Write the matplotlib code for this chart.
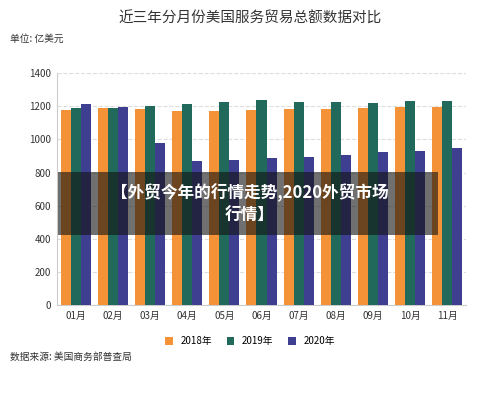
import numpy as np
import matplotlib
matplotlib.use("Agg")
import matplotlib.pyplot as plt
from matplotlib.patches import Rectangle

plt.rcParams['font.family'] = ['Noto Sans CJK SC', 'DejaVu Sans']

months = ["01月", "02月", "03月", "04月", "05月", "06月", "07月", "08月", "09月", "10月", "11月"]
y2018 = [1178, 1190, 1184, 1174, 1174, 1176, 1182, 1186, 1192, 1197, 1197]
y2019 = [1192, 1192, 1204, 1216, 1226, 1238, 1224, 1224, 1220, 1230, 1230]
y2020 = [1212, 1196, 979, 872, 876, 886, 896, 908, 922, 930, 946]
series = [("2018年", y2018, "#f39237"), ("2019年", y2019, "#21695a"), ("2020年", y2020, "#3e3f91")]

fig = plt.figure(figsize=(5.0, 4.08), dpi=100)
ax = fig.add_axes([0.114, 0.252, 0.818, 0.569])
x = np.arange(len(months))
w = 0.27
for i, (name, vals, col) in enumerate(series):
    ax.bar(x + (i - 1) * w, vals, w, color=col, label=name, zorder=3)

ax.set_ylim(0, 1400)
ax.set_yticks(range(0, 1401, 200))
ax.set_xlim(-0.5, len(months) - 0.5)
ax.set_xticks(x)
ax.set_xticklabels(months)
ax.tick_params(labelsize=7, colors="#333333", length=0, pad=4)
ax.grid(axis="y", linestyle="--", color="#dddddd", linewidth=0.8, zorder=0)
for s in ["top", "right"]:
    ax.spines[s].set_visible(False)
ax.spines["left"].set_color("#cccccc")
ax.spines["bottom"].set_color("#cccccc")

fig.text(0.5, 0.955, "近三年分月份美国服务贸易总额数据对比", ha="center", va="center", fontsize=10.5, color="#333333")
fig.text(0.02, 0.905, "单位: 亿美元", fontsize=7, color="#333333", va="center")
fig.text(0.02, 0.125, "数据来源: 美国商务部普查局", fontsize=7, color="#333333", va="center")
fig.legend(loc="center", bbox_to_anchor=(0.5, 0.163), ncol=3, frameon=False, fontsize=7,
           handlelength=0.8, handleheight=0.8, columnspacing=1.5)

fig.patches.append(Rectangle((0.116, 0.424), 0.76, 0.155, transform=fig.transFigure,
                             facecolor="#111111", alpha=0.6, zorder=10))
fig.text(0.5, 0.5, "【外贸今年的行情走势,2020外贸市场\n行情】", ha="center", va="center",
         fontsize=12, fontweight="bold", color="white", linespacing=1.3, zorder=11)

fig.savefig("out.png", dpi=100)
